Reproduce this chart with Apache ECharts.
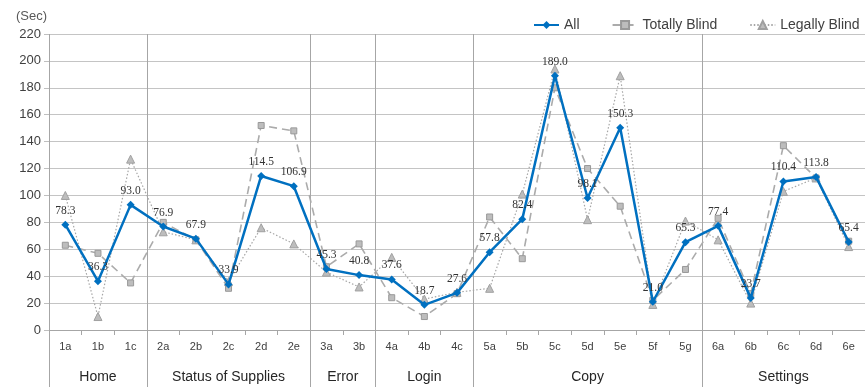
<!DOCTYPE html>
<html><head><meta charset="utf-8">
<script src="https://cdn.jsdelivr.net/npm/echarts@6/dist/echarts.min.js"></script>
<style>html,body{margin:0;padding:0;background:#fff}#c{width:865px;height:387px}</style>
</head><body><div id="c"></div>
<script>
const categories = ['1a','1b','1c','2a','2b','2c','2d','2e','3a','3b','4a','4b','4c','5a','5b','5c','5d','5e','5f','5g','6a','6b','6c','6d','6e'];
const groupNames = ['Home','Status of Supplies','Error','Login','Copy','Settings'];
const groupSizes = [3,5,2,3,7,5];
const allValues = [78.3,36.3,93.0,76.9,67.9,33.9,114.5,106.9,45.3,40.8,37.6,18.7,27.6,57.8,82.4,189.0,98.1,150.3,21.0,65.3,77.4,23.7,110.4,113.8,65.4];
const totallyBlind = [63,57,35,80,67,31,152,148,47,64,24,10,27,84,53,180,120,92,22,45,83,27,137,113,66];
const legallyBlind = [100,10,127,73,67,36,76,64,43,32,54,23,28,31,101,194,82,189,19,81,67,20,103,113,62];
const yTicks = {min:0, max:220, interval:20};

const chart = echarts.init(document.getElementById('c'), null, {renderer:'canvas'});
const txt = '#404040';
chart.setOption({
  animation:false,
  title:{text:'(Sec)', left:11, top:5, textStyle:{fontFamily:'Liberation Sans', fontSize:13, fontWeight:'normal', color:'#595959'}},
  legend:{
    data:['All','Totally Blind','Legally Blind'],
    left:528, top:13, width:400, itemWidth:25, itemHeight:10, itemGap:32,
    textStyle:{fontFamily:'Liberation Sans', fontSize:14, color:'#404040'}
  },
  grid:{left:49, top:34, width:826, height:296},
  xAxis:{
    type:'category', data:categories, boundaryGap:true,
    axisLine:{lineStyle:{color:'#A6A6A6'}},
    axisTick:{show:true, length:5, lineStyle:{color:'#A6A6A6'}},
    axisLabel:{margin:11, fontFamily:'Liberation Sans', fontSize:11, color:txt}
  },
  yAxis:{
    type:'value', min:yTicks.min, max:yTicks.max, interval:yTicks.interval,
    axisLine:{show:false},
    axisTick:{show:true, length:5, lineStyle:{color:'#BFBFBF'}},
    axisLabel:{margin:8, fontFamily:'Liberation Sans', fontSize:13, color:txt},
    splitLine:{lineStyle:{color:'#C4C4C4'}}
  },
  series:[
    {name:'Totally Blind', type:'line', data:totallyBlind, z:2,
     symbol:'rect', symbolSize:6,
     itemStyle:{color:'#BDBDBD', borderColor:'#999999', borderWidth:1},
     lineStyle:{color:'#ABABAB', width:1.6, type:[8,5]}},
    {name:'Legally Blind', type:'line', data:legallyBlind, z:3,
     symbol:'triangle', symbolSize:8,
     itemStyle:{color:'#BDBDBD', borderColor:'#A0A0A0', borderWidth:1},
     lineStyle:{color:'#A6A6A6', width:1.2, type:[1.5,2]}},
    {name:'All', type:'line', data:allValues, z:4,
     symbol:'diamond', symbolSize:8,
     itemStyle:{color:'#0070C0'},
     lineStyle:{color:'#0070C0', width:2.5},
     label:{show:true, position:'top', distance:4, fontFamily:'Liberation Serif', fontSize:11.5, color:'#333333',
            formatter:p=>p.value.toFixed(1)}}
  ]
});

function addGraphics(){
  const xPix = i => chart.convertToPixel({xAxisIndex:0}, categories[i]);
  const bw = xPix(1) - xPix(0);
  const yTop = chart.convertToPixel({yAxisIndex:0}, yTicks.max);
  const H = chart.getHeight();
  const els = [];
  let start = 0;
  const lineStyle = {stroke:'#A6A6A6', lineWidth:1};
  els.push({type:'line', shape:{x1:Math.round(xPix(0)-bw/2)+0.5, y1:yTop, x2:Math.round(xPix(0)-bw/2)+0.5, y2:H}, style:lineStyle, z:1});
  groupNames.forEach((g,k)=>{
    const end = start + groupSizes[k];
    const xc = (xPix(start) + xPix(end-1))/2;
    els.push({type:'text', x:xc, y:377, style:{text:g, fill:'#262626', font:'14px "Liberation Sans"', align:'center', verticalAlign:'middle'}});
    if (end < categories.length){
      const xb = Math.round(xPix(end) - bw/2) + 0.5;
      els.push({type:'line', shape:{x1:xb, y1:yTop, x2:xb, y2:H}, style:lineStyle, z:1});
    }
    start = end;
  });
  chart.setOption({graphic:els});
}
addGraphics();
</script></body></html>
